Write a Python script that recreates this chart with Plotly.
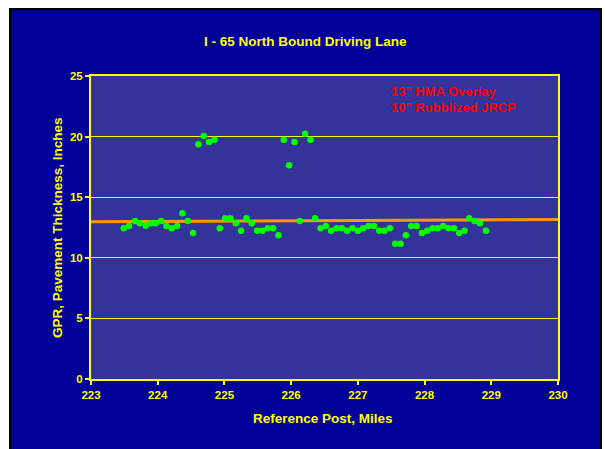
import plotly.graph_objects as go

# GPR survey readings along the northbound driving lane
ref_post = [
    223.49, 223.57, 223.66, 223.73, 223.82, 223.90, 223.97, 224.05, 224.13, 224.21,
    224.29, 224.37, 224.45, 224.53, 224.61, 224.69, 224.77, 224.85, 224.93, 225.01,
    225.09, 225.17, 225.25, 225.33, 225.41, 225.49, 225.57, 225.65, 225.73, 225.81,
    225.89, 225.97, 226.05, 226.13, 226.21, 226.29, 226.36, 226.44, 226.52, 226.60,
    226.68, 226.76, 226.84, 226.92, 227.00, 227.08, 227.16, 227.24, 227.32, 227.40,
    227.48, 227.56, 227.64, 227.72, 227.80, 227.88, 227.96, 228.04, 228.12, 228.20,
    228.28, 228.36, 228.44, 228.52, 228.60, 228.67, 228.75, 228.83, 228.92,
]
thickness = [
    12.43, 12.62, 13.04, 12.85, 12.65, 12.85, 12.85, 13.04, 12.62, 12.43,
    12.62, 13.67, 13.04, 12.05, 19.36, 20.05, 19.55, 19.74, 12.43, 13.26,
    13.26, 12.85, 12.24, 13.26, 12.85, 12.24, 12.24, 12.43, 12.43, 11.86,
    19.74, 17.63, 19.55, 13.04, 20.24, 19.74, 13.26, 12.43, 12.62, 12.24,
    12.43, 12.43, 12.24, 12.43, 12.24, 12.43, 12.62, 12.62, 12.24, 12.24,
    12.43, 11.16, 11.16, 11.86, 12.62, 12.62, 12.05, 12.24, 12.43, 12.43,
    12.62, 12.43, 12.43, 12.05, 12.24, 13.26, 13.04, 12.85, 12.24,
]

# Linear trend across the section
trend_x = [223.0, 230.0]
trend_y = [12.98, 13.16]

x_ticks = [223, 224, 225, 226, 227, 228, 229, 230]
y_ticks = [0, 5, 10, 15, 20, 25]

note_lines = ['13" HMA Overlay', '10" Rubblized JRCP']

W, H = 605, 449
L, R, T, B = 91, 47, 76, 70
PW, PH = W - L - R, H - T - B

YELLOW = "#FFFF00"
FONT = "Liberation Sans, Arial, sans-serif"


def px_x(px):
    return (px - L) / PW


def px_y(py):
    return (H - B - py) / PH


fig = go.Figure()

fig.add_trace(go.Scatter(
    x=trend_x, y=trend_y, mode="lines",
    line=dict(color="#FF9900", width=3),
    hoverinfo="skip", showlegend=False,
))
fig.add_trace(go.Scatter(
    x=ref_post, y=thickness, mode="markers",
    marker=dict(color="#00FF00", size=6.5, line=dict(width=0)),
    showlegend=False,
))

axis_common = dict(
    showline=True, linecolor=YELLOW, linewidth=2, mirror=True,
    showgrid=True, gridcolor=YELLOW, gridwidth=1,
    zeroline=False,
    ticks="outside", ticklen=4, tickwidth=1.5, tickcolor=YELLOW,
    tickfont=dict(family=FONT, size=11.5, color=YELLOW, weight="bold"),
    fixedrange=True,
)

fig.update_xaxes(range=[223, 230], tickvals=x_ticks, showgrid=False, **{k: v for k, v in axis_common.items() if k != "showgrid"})
fig.update_yaxes(range=[0, 25], tickvals=y_ticks, **axis_common)

shapes = [
    # dark chart panel with black frame
    dict(type="rect", xref="paper", yref="paper",
         x0=px_x(10), x1=px_x(601), y0=px_y(470), y1=px_y(9),
         fillcolor="#000099", line=dict(color="black", width=2), layer="below"),
    # plotting area
    dict(type="rect", xref="paper", yref="paper",
         x0=0, x1=1, y0=0, y1=1,
         fillcolor="#333399", line=dict(width=0), layer="below"),
]

annotations = [
    dict(text="I - 65 North Bound Driving Lane", xref="paper", yref="paper",
         x=px_x(305), y=px_y(41), xanchor="center", yanchor="middle", showarrow=False,
         font=dict(family=FONT, size=13.5, color=YELLOW, weight="bold")),
    dict(text="Reference Post, Miles", xref="paper", yref="paper",
         x=px_x(323), y=px_y(418), xanchor="center", yanchor="middle", showarrow=False,
         font=dict(family=FONT, size=13.5, color=YELLOW, weight="bold")),
    dict(text="GPR, Pavement Thickness, Inches", xref="paper", yref="paper",
         x=px_x(57), y=px_y(228), xanchor="center", yanchor="middle", showarrow=False,
         textangle=-90,
         font=dict(family=FONT, size=13.5, color=YELLOW, weight="bold")),
]
for i, line in enumerate(note_lines):
    annotations.append(dict(
        text=line, xref="paper", yref="paper",
        x=px_x(389), y=px_y(91 + 16 * i), xanchor="left", yanchor="middle", showarrow=False,
        font=dict(family=FONT, size=13, color="#FF0000", weight="bold"),
    ))

fig.update_layout(
    width=W, height=H,
    margin=dict(l=L, r=R, t=T, b=B, pad=0),
    paper_bgcolor="white",
    plot_bgcolor="rgba(0,0,0,0)",
    shapes=shapes,
    annotations=annotations,
    showlegend=False,
)

fig.write_html("out.html", config={"displayModeBar": False})
